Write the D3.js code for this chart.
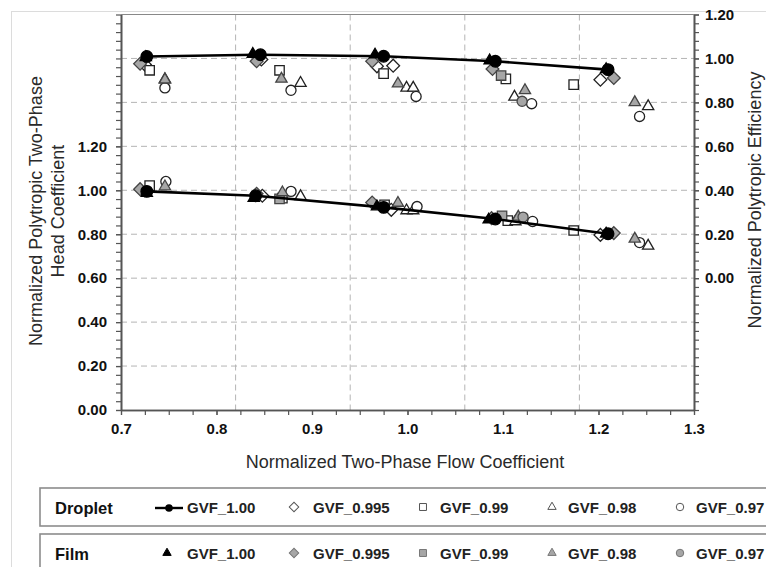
<!DOCTYPE html>
<html>
<head>
<meta charset="utf-8">
<script src="https://cdn.jsdelivr.net/npm/d3@7"></script>
<style>
  body { margin: 0; background: #fff; }
  svg { display: block; font-family: "Liberation Sans", Arial, sans-serif; }
</style>
</head>
<body>
<svg id="chart" width="766" height="567"></svg>
<script>
// ---- Data: [flow coefficient, value] ----
const gvfLabels = ["GVF_1.00", "GVF_0.995", "GVF_0.99", "GVF_0.98", "GVF_0.97"];
const regimes = ["Droplet", "Film"];

// Normalized polytropic two-phase head coefficient (left axis)
const dropletHead100  = [[0.727, 0.995], [0.841, 0.975], [0.975, 0.922], [1.092, 0.869], [1.210, 0.802]];
const dropletHead0995 = [[0.848, 0.975], [0.983, 0.911], [1.202, 0.797]];
const dropletHead099  = [[0.730, 1.021], [0.869, 0.964], [0.976, 0.934], [1.105, 0.862], [1.174, 0.817]];
const dropletHead098  = [[0.888, 0.972], [0.999, 0.908], [1.006, 0.908], [1.113, 0.858], [1.252, 0.747]];
const dropletHead097  = [[0.747, 1.040], [0.878, 0.995], [1.010, 0.926], [1.131, 0.858], [1.243, 0.762]];
const filmHead100  = [[0.727, 0.987], [0.839, 0.964], [0.968, 0.926], [1.085, 0.866], [1.208, 0.802]];
const filmHead0995 = [[0.720, 1.005], [0.842, 0.984], [0.963, 0.944], [1.088, 0.873], [1.216, 0.805]];
const filmHead099  = [[0.866, 0.961], [1.099, 0.884]];
const filmHead098  = [[0.746, 1.017], [0.869, 0.990], [0.990, 0.942], [1.116, 0.879], [1.238, 0.779]];
const filmHead097  = [[1.121, 0.878]];

// Normalized polytropic efficiency (right axis)
const dropletEff100  = [[0.727, 1.009], [0.846, 1.017], [0.975, 1.010], [1.092, 0.987], [1.210, 0.949]];
const dropletEff0995 = [[0.725, 0.972], [0.847, 0.995], [0.968, 0.964], [0.985, 0.967], [1.202, 0.903]];
const dropletEff099  = [[0.730, 0.946], [0.866, 0.946], [0.975, 0.931], [1.103, 0.907], [1.174, 0.881]];
const dropletEff098  = [[0.746, 0.905], [0.888, 0.888], [0.999, 0.866], [1.006, 0.866], [1.112, 0.825], [1.252, 0.782]];
const dropletEff097  = [[0.746, 0.866], [0.878, 0.855], [1.009, 0.827], [1.130, 0.794], [1.243, 0.736]];
const filmEff100  = [[0.726, 1.005], [0.838, 1.020], [0.966, 1.017], [1.086, 0.990], [1.208, 0.950]];
const filmEff0995 = [[0.720, 0.976], [0.842, 0.987], [0.963, 0.987], [1.089, 0.952], [1.216, 0.911]];
const filmEff099  = [[1.098, 0.922]];
const filmEff098  = [[0.746, 0.903], [0.868, 0.907], [0.990, 0.885], [1.123, 0.855], [1.238, 0.800]];
const filmEff097  = [[1.120, 0.805]];

// Axis ticks
const xTicks = [0.7, 0.8, 0.9, 1.0, 1.1, 1.2, 1.3];
const headTicks = [0.0, 0.2, 0.4, 0.6, 0.8, 1.0, 1.2];
const effTicks = [0.0, 0.2, 0.4, 0.6, 0.8, 1.0, 1.2];

(function draw() {
  const svg = d3.select("#chart");
  const pLeft = 121, pRight = 694, pTop = 14.5, pBottom = 410;
  const x = d3.scaleLinear().domain([0.7, 1.3]).range([pLeft, pRight]);
  const yHead = d3.scaleLinear().domain([0, 1.8]).range([pBottom, pTop]);
  const yEff = d3.scaleLinear().domain([-0.6, 1.2]).range([pBottom, pTop]);

  const axisColor = "#555";
  const gridColor = "#b4b4b4";
  const grayFill = "#a6a6a6";

  // outer frame
  svg.append("rect").attr("x", 11.5).attr("y", 11.5).attr("width", 800).attr("height", 600)
    .attr("fill", "none").attr("stroke", "#dcdcdc").attr("stroke-width", 1);

  // grid: horizontal lines on the efficiency scale, vertical lines at fifths of the plot
  const grid = svg.append("g");
  d3.range(-0.4, 1.0001, 0.2).forEach(v => {
    grid.append("line").attr("x1", pLeft).attr("x2", pRight)
      .attr("y1", yEff(v)).attr("y2", yEff(v))
      .attr("stroke", gridColor).attr("stroke-dasharray", "6,4");
  });
  [1, 2, 3, 4].forEach(k => {
    const px = pLeft + (pRight - pLeft) * k / 5;
    grid.append("line").attr("x1", px).attr("x2", px)
      .attr("y1", pTop).attr("y2", pBottom)
      .attr("stroke", gridColor).attr("stroke-dasharray", "6,4");
  });

  // plot top border
  svg.append("line").attr("x1", pLeft).attr("x2", pRight).attr("y1", pTop).attr("y2", pTop)
    .attr("stroke", "#888").attr("stroke-width", 1.2);

  function styleAxis(g) {
    g.select(".domain").attr("stroke", axisColor).attr("stroke-width", 1.6);
    g.selectAll(".tick line").attr("stroke", axisColor).attr("stroke-width", 1.2);
    g.selectAll(".tick text").attr("fill", "#111").attr("font-weight", "bold")
      .attr("font-size", 15).attr("font-family", "'Liberation Sans', Arial, sans-serif");
  }

  // minor ticks
  svg.append("g").attr("transform", `translate(0,${pBottom})`)
    .call(d3.axisBottom(x).tickValues(d3.range(0, 25).map(i => 0.7 + i * 0.025)).tickFormat("").tickSize(5).tickSizeOuter(0))
    .call(styleAxis);
  svg.append("g").attr("transform", `translate(${pLeft},0)`)
    .call(d3.axisLeft(yHead).tickValues(d3.range(0, 46).map(i => i * 0.04)).tickFormat("").tickSize(5).tickSizeOuter(0))
    .call(styleAxis);
  svg.append("g").attr("transform", `translate(${pRight},0)`)
    .call(d3.axisRight(yEff).tickValues(d3.range(0, 46).map(i => -0.6 + i * 0.04)).tickFormat("").tickSize(5).tickSizeOuter(0))
    .call(styleAxis);

  // labelled axes
  svg.append("g").attr("transform", `translate(0,${pBottom})`)
    .call(d3.axisBottom(x).tickValues(xTicks).tickFormat(d3.format(".1f")).tickSize(5).tickPadding(8).tickSizeOuter(0))
    .call(styleAxis);
  svg.append("g").attr("transform", `translate(${pLeft},0)`)
    .call(d3.axisLeft(yHead).tickValues(headTicks).tickFormat(d3.format(".2f")).tickSize(5).tickPadding(9).tickSizeOuter(0))
    .call(styleAxis);
  svg.append("g").attr("transform", `translate(${pRight},0)`)
    .call(d3.axisRight(yEff).tickValues(effTicks).tickFormat(d3.format(".2f")).tickSize(5).tickPadding(6).tickSizeOuter(0))
    .call(styleAxis);

  // axis titles
  const titleColor = "#2a2a2a";
  svg.append("text").attr("x", 405).attr("y", 468).attr("text-anchor", "middle")
    .attr("font-size", 18).attr("fill", titleColor).text("Normalized Two-Phase Flow Coefficient");
  const lt = svg.append("text").attr("transform", "translate(0,211) rotate(-90)")
    .attr("text-anchor", "middle").attr("font-size", 18).attr("fill", titleColor);
  lt.append("tspan").attr("x", 0).attr("y", 42).text("Normalized Polytropic Two-Phase");
  lt.append("tspan").attr("x", 0).attr("y", 64).text("Head Coefficient");
  svg.append("text").attr("transform", "translate(761,200) rotate(-90)")
    .attr("text-anchor", "middle").attr("font-size", 18).attr("fill", titleColor)
    .text("Normalized Polytropic Efficiency");

  // ---- Markers ----
  const shapes = {
    circle:   { type: d3.symbolCircle,   size: 80, rot: 0 },
    diamond:  { type: d3.symbolSquare,   size: 82, rot: 45 },
    square:   { type: d3.symbolSquare,   size: 88, rot: 0 },
    triangle: { type: d3.symbolTriangle, size: 55, rot: 0 }
  };
  const seriesShapes = ["circle", "diamond", "square", "triangle", "circle"];

  function drawPoints(g, data, yScale, shape, fill, stroke, scale = 1) {
    const s = shapes[shape];
    g.selectAll(null).data(data).enter().append("path")
      .attr("d", d3.symbol().type(s.type).size(s.size * scale * scale))
      .attr("transform", d => `translate(${x(d[0])},${yScale(d[1])}) rotate(${s.rot})`)
      .attr("fill", fill).attr("stroke", stroke).attr("stroke-width", 1.3);
  }

  const marks = svg.append("g");
  const lineHead = d3.line().x(d => x(d[0])).y(d => yHead(d[1]));
  const lineEff = d3.line().x(d => x(d[0])).y(d => yEff(d[1]));

  const dropletHead = [dropletHead0995, dropletHead099, dropletHead098, dropletHead097];
  const dropletEff = [dropletEff0995, dropletEff099, dropletEff098, dropletEff097];
  const filmHead = [filmHead0995, filmHead099, filmHead098, filmHead097];
  const filmEff = [filmEff0995, filmEff099, filmEff098, filmEff097];

  // droplet open markers, then film gray markers
  dropletHead.forEach((d, i) => drawPoints(marks, d, yHead, seriesShapes[i + 1], "#fff", "#222"));
  dropletEff.forEach((d, i) => drawPoints(marks, d, yEff, seriesShapes[i + 1], "#fff", "#222"));
  filmHead.forEach((d, i) => drawPoints(marks, d, yHead, seriesShapes[i + 1], grayFill, "#444"));
  filmEff.forEach((d, i) => drawPoints(marks, d, yEff, seriesShapes[i + 1], grayFill, "#444"));

  // Film GVF_1.00: black triangles
  drawPoints(marks, filmHead100, yHead, "triangle", "#000", "#000");
  drawPoints(marks, filmEff100, yEff, "triangle", "#000", "#000");

  // Droplet GVF_1.00: line with black circles
  marks.append("path").datum(dropletHead100).attr("d", lineHead)
    .attr("fill", "none").attr("stroke", "#000").attr("stroke-width", 2.6);
  marks.append("path").datum(dropletEff100).attr("d", lineEff)
    .attr("fill", "none").attr("stroke", "#000").attr("stroke-width", 2.6);
  drawPoints(marks, dropletHead100, yHead, "circle", "#000", "#000", 1.15);
  drawPoints(marks, dropletEff100, yEff, "circle", "#000", "#000", 1.15);

  // ---- Legend ----
  const legend = svg.append("g");
  const rows = [
    { name: regimes[0], y: 508, box: [40, 488, 760, 38] },
    { name: regimes[1], y: 554, box: [40, 534, 760, 60] }
  ];
  const itemX = [169, 294, 423, 552, 680];
  const textX = [187, 313, 440, 568, 696];

  function legendSymbol(g, shape, cx, cy, fill, stroke) {
    const s = shapes[shape];
    g.append("path").attr("d", d3.symbol().type(s.type).size(s.size * 0.55))
      .attr("transform", `translate(${cx},${cy}) rotate(${s.rot})`)
      .attr("fill", fill).attr("stroke", stroke).attr("stroke-width", 1);
  }

  rows.forEach((r, ri) => {
    legend.append("rect").attr("x", r.box[0]).attr("y", r.box[1]).attr("width", r.box[2]).attr("height", r.box[3])
      .attr("fill", "#fff").attr("stroke", "#8c8c8c").attr("stroke-width", 1.6);
    legend.append("text").attr("x", 55).attr("y", r.y).attr("dy", "0.36em")
      .attr("font-size", 16.5).attr("font-weight", "bold").attr("fill", "#111").text(r.name);
    gvfLabels.forEach((lab, i) => {
      const cx = itemX[i];
      if (ri === 0 && i === 0) {
        legend.append("line").attr("x1", 155).attr("x2", 183).attr("y1", r.y).attr("y2", r.y)
          .attr("stroke", "#000").attr("stroke-width", 2.4);
        legend.append("circle").attr("cx", 169).attr("cy", r.y).attr("r", 3.8).attr("fill", "#000");
      } else if (ri === 1 && i === 0) {
        legendSymbol(legend, "triangle", 167, r.y - 1, "#000", "#000");
      } else if (ri === 0) {
        legendSymbol(legend, seriesShapes[i], cx, r.y - 1, "#fff", "#555");
      } else {
        legendSymbol(legend, seriesShapes[i], cx, r.y - 1, grayFill, "#777");
      }
      legend.append("text").attr("x", textX[i]).attr("y", r.y).attr("dy", "0.36em")
        .attr("font-size", 15).attr("font-weight", "bold").attr("fill", "#222").text(lab);
    });
  });
})();
</script>
</body>
</html>
